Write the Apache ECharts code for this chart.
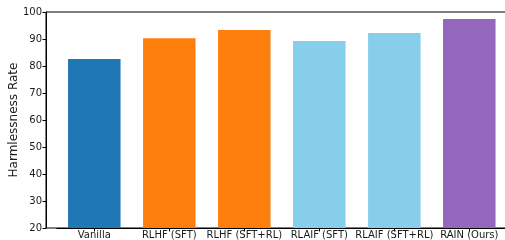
<!DOCTYPE html>
<html>
<head>
<meta charset="utf-8">
<script src="https://cdn.jsdelivr.net/npm/echarts@6/dist/echarts.min.js"></script>
<style>
    html, body { margin: 0; padding: 0; background: #fff; overflow: hidden; }
    /* the original figure is cropped on the right, so the canvas runs past the window */
    #chart { width: 518px; height: 240px; }
</style>
</head>
<body>
<div id="chart"></div>
<script>
// categories and values
var methods = ['Vanilla', 'RLHF (SFT)', 'RLHF (SFT+RL)', 'RLAIF (SFT)', 'RLAIF (SFT+RL)', 'RAIN (Ours)'];
var harmlessness = [82.6, 90.3, 93.3, 89.3, 92.2, 97.4];
var barColors = ['#1f77b4', '#ff7f0e', '#ff7f0e', '#87ceeb', '#87ceeb', '#9467bd'];
var yTicks = [20, 30, 40, 50, 60, 70, 80, 90, 100];

var FONT = 'DejaVu Sans';
var TEXT = '#1a1a1a';
var chart = echarts.init(document.getElementById('chart'), null, { renderer: 'canvas' });

var barData = [];
for (var i = 0; i < methods.length; i++) {
    barData.push({
        value: harmlessness[i],
        itemStyle: { color: barColors[i] }
    });
}

var yMin = yTicks[0];
var yMax = yTicks[yTicks.length - 1];

var option = {
    animation: false,
    backgroundColor: '#fff',
    grid: [
        // frame + y axis
        {
            left: 46, right: 0, top: 12, bottom: 12,
            outerBoundsMode: 'none',
            containLabel: false,
            show: true, borderColor: '#000', borderWidth: 1,
            backgroundColor: 'transparent'
        },
        // bars (categories are inset like matplotlib's x margins)
        {
            left: 56.8, width: 450, top: 12, bottom: 12,
            outerBoundsMode: 'none',
            containLabel: false
        }
    ],
    xAxis: [
        { gridIndex: 0, type: 'value', show: false, min: 0, max: 1 },
        {
            gridIndex: 1,
            type: 'category',
            data: methods,
            boundaryGap: true,
            axisLine: { show: true, lineStyle: { color: '#000', width: 1 } },
            axisTick: {
                show: true, alignWithLabel: true, length: 3.5,
                lineStyle: { color: '#000', width: 1 }
            },
            axisLabel: {
                interval: 0,
                fontFamily: FONT, fontSize: 10, color: TEXT, margin: 2
            },
            splitLine: { show: false }
        }
    ],
    yAxis: [
        {
            gridIndex: 0,
            type: 'value',
            min: yMin,
            max: yMax,
            interval: 10,
            name: 'Harmlessness Rate',
            nameLocation: 'middle',
            nameGap: 26,
            nameMoveOverlap: false,
            nameTextStyle: { fontFamily: FONT, fontSize: 12, color: TEXT },
            splitLine: { show: false },
            axisLine: { show: true, lineStyle: { color: '#000', width: 1 } },
            axisTick: { show: true, length: 3.5, lineStyle: { color: '#000', width: 1 } },
            axisLabel: { fontFamily: FONT, fontSize: 10, color: TEXT, margin: 4 }
        },
        { gridIndex: 1, type: 'value', show: false, min: yMin, max: yMax }
    ],
    series: [{
        type: 'bar',
        xAxisIndex: 1,
        yAxisIndex: 1,
        data: barData,
        barWidth: 52.5
    }]
};

chart.setOption(option);
</script>
</body>
</html>
